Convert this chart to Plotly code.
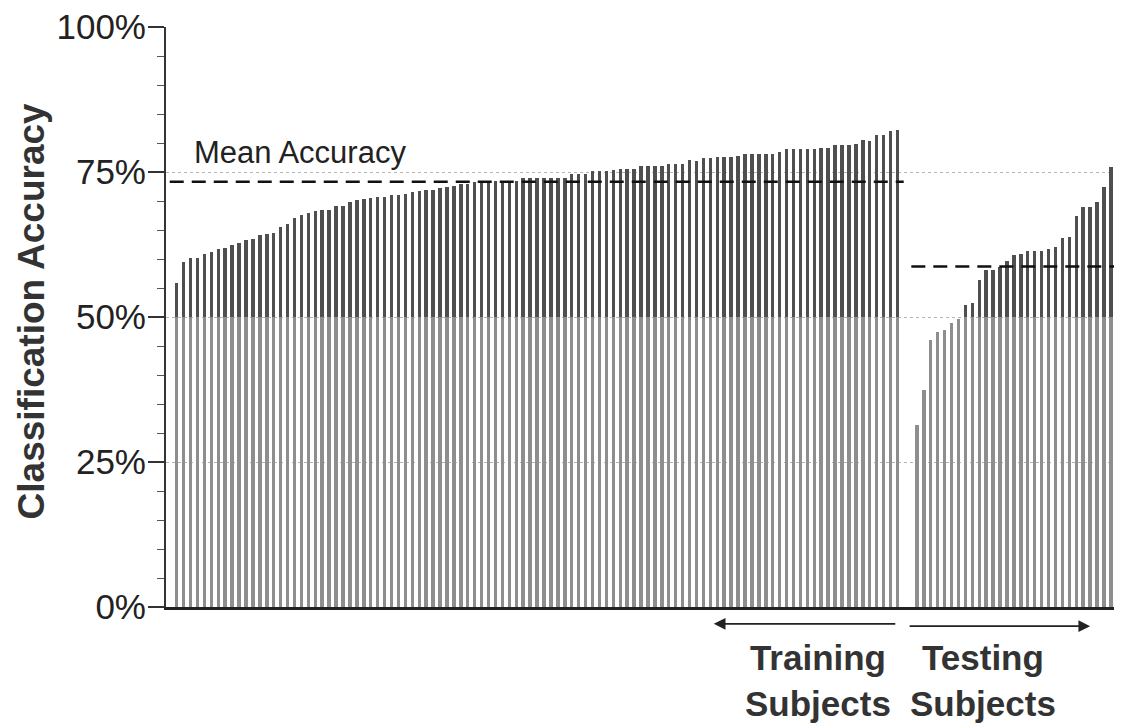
import numpy as np
import plotly.graph_objects as go

# ---- data ----
train_acc = [55.8, 59.5, 60.1, 60.2, 60.9, 61.2, 61.7, 61.9, 62.5, 62.7,
             63.2, 63.5, 64.1, 64.3, 64.5, 65.6, 66.1, 67.1, 67.6, 67.9,
             68.2, 68.4, 68.5, 69.1, 69.1, 69.8, 70.2, 70.4, 70.5, 70.7,
             70.7, 71.0, 71.1, 71.2, 71.5, 71.7, 71.9, 71.9, 72.2, 72.5,
             72.6, 72.9, 73.0, 73.2, 73.4, 73.4, 73.4, 73.4, 73.4, 73.4,
             74.0, 74.0, 74.0, 74.0, 74.0, 74.0, 74.0, 74.6, 74.6, 74.6,
             75.2, 75.2, 75.2, 75.4, 75.5, 75.5, 75.5, 76.0, 76.0, 76.0,
             76.0, 76.4, 76.4, 76.4, 77.0, 76.9, 77.4, 77.4, 77.6, 77.6,
             77.6, 77.7, 78.1, 78.1, 78.1, 78.1, 78.1, 78.5, 78.9, 79.0,
             79.0, 79.0, 79.0, 79.1, 79.2, 79.6, 79.6, 79.7, 79.9, 80.5,
             80.4, 81.3, 81.3, 82.0, 82.3]
test_acc = [31.4, 37.5, 46.0, 47.4, 47.8, 48.9, 49.7, 52.0, 52.4, 56.4,
            58.1, 58.1, 58.6, 59.7, 60.7, 60.9, 61.3, 61.3, 61.3, 61.7,
            62.1, 63.6, 63.8, 67.5, 69.0, 69.0, 69.8, 72.4, 75.9, 76.4]
MEAN_TRAIN = 73.3
MEAN_TEST = 58.7
y_tick_vals = [0, 25, 50, 75, 100]
y_tick_text = ["0%", "25%", "50%", "75%", "100%"]
group_labels = ["Training<br>Subjects", "Testing<br>Subjects"]

GAP = 1.8
x_train = np.arange(len(train_acc), dtype=float)
x_test = len(train_acc) + GAP + np.arange(len(test_acc), dtype=float)
x_all = np.concatenate([x_train, x_test])
v_all = np.array(train_acc + test_acc)
lower = np.minimum(v_all, 50)
upper = np.maximum(v_all - 50, 0)

FONT = "Liberation Sans, Arial, Helvetica, sans-serif"

fig = go.Figure()
fig.add_trace(go.Bar(x=x_all, y=lower, width=0.5,
                     marker=dict(color="#8e8e8e", line=dict(width=0)),
                     hoverinfo="skip"))
fig.add_trace(go.Bar(x=x_all, y=upper, width=0.5,
                     marker=dict(color="#4f4f4f", line=dict(width=0)),
                     hoverinfo="skip"))

# mean lines
fig.add_shape(type="line", xref="x", yref="y",
              x0=x_train[0] - 1.0, x1=x_train[-1] + 0.9,
              y0=MEAN_TRAIN, y1=MEAN_TRAIN,
              line=dict(color="#111", width=2.5, dash="14px,8px"))
fig.add_shape(type="line", xref="x", yref="y",
              x0=x_test[0] - 0.8, x1=x_test[-1] + 0.6,
              y0=MEAN_TEST, y1=MEAN_TEST,
              line=dict(color="#111", width=2.5, dash="14px,8px"))

fig.add_annotation(text="Mean Accuracy", xref="paper", yref="y",
                   x=0.027, y=78.4, xanchor="left", yanchor="middle",
                   showarrow=False, font=dict(family=FONT, size=31, color="#222"))

# y title
fig.add_annotation(text="<b>Classification Accuracy</b>", xref="paper", yref="paper",
                   x=-0.141, y=0.51, textangle=-90, showarrow=False,
                   xanchor="center", yanchor="middle",
                   font=dict(family=FONT, size=37, color="#333"))

# group labels
fig.add_annotation(text="<b>" + group_labels[0] + "</b>", xref="x", yref="paper",
                   x=92.5, y=-0.127, showarrow=False,
                   xanchor="center", yanchor="middle",
                   font=dict(family=FONT, size=35, color="#333"))
fig.add_annotation(text="<b>" + group_labels[1] + "</b>", xref="x", yref="paper",
                   x=x_test[0] + 9.6, y=-0.127, showarrow=False,
                   xanchor="center", yanchor="middle",
                   font=dict(family=FONT, size=35, color="#333"))

# arrows
fig.add_annotation(text="", xref="x", yref="paper",
                   x=x_train[-1] - 26.5, y=-0.029, ax=183, ay=0,
                   axref="pixel", ayref="pixel", showarrow=True,
                   arrowhead=2, arrowsize=1.3, arrowwidth=1.8, arrowcolor="#222")
fig.add_annotation(text="", xref="x", yref="paper",
                   x=x_test[0] + 25.0, y=-0.033, ax=-182, ay=0,
                   axref="pixel", ayref="pixel", showarrow=True,
                   arrowhead=2, arrowsize=1.3, arrowwidth=1.8, arrowcolor="#222")

fig.update_layout(
    width=1114, height=716,
    margin=dict(l=158, r=0, t=19, b=117),
    paper_bgcolor="white", plot_bgcolor="white",
    barmode="stack", bargap=0, showlegend=False,
    font=dict(family=FONT, color="#222"),
)
fig.update_xaxes(range=[-1.54, x_test[-1] + 0.6], showticklabels=False,
                 showgrid=False, zeroline=False, ticks="",
                 showline=True, linecolor="#222", linewidth=2.5)
fig.update_yaxes(range=[0, 100], tickvals=y_tick_vals, ticktext=y_tick_text,
                 tickfont=dict(family=FONT, size=35, color="#222"),
                 ticklabeloverflow="allow", ticklabelstandoff=-5,
                 ticks="outside", ticklen=16, tickwidth=1.5, tickcolor="#333",
                 minor=dict(dtick=5, ticks="outside", ticklen=7, tickwidth=1,
                            tickcolor="#555", showgrid=False),
                 showline=True, linecolor="#333", linewidth=2,
                 showgrid=True, gridcolor="#b5b5b5", gridwidth=1, griddash="dot",
                 zeroline=False)

fig.write_html("out.html")
